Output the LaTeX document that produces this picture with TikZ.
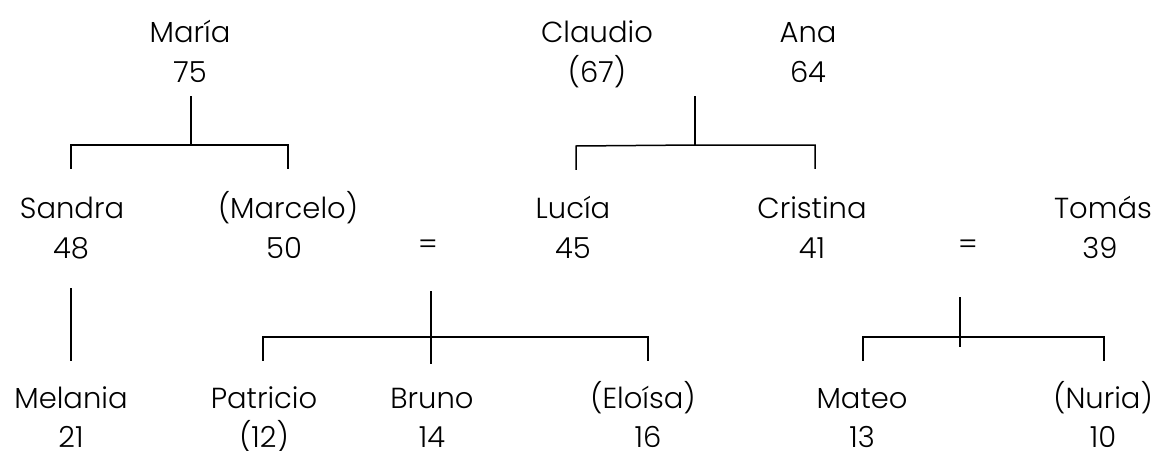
\documentclass[tikz,border=0pt]{standalone}
\usepackage{fontspec}
\setmainfont{Poppins}[UprightFont=* Light]
\begin{document}
\begin{tikzpicture}[x=1pt,y=-1pt,
  lbl/.style={anchor=base,inner sep=0pt,font=\fontsize{29}{35}\selectfont},
  conn/.style={line width=1.5pt,line cap=rect}]
\useasboundingbox (0,0) rectangle (1155,450);
% row 1
\node[lbl] (maria) at (190,42) {María};
\node[lbl] (mariaA) at (190,82) {75};
\node[lbl] (claudio) at (597,42) {Claudio};
\node[lbl] (claudioA) at (597,82) {(67)};
\node[lbl] (ana) at (808,42) {Ana};
\node[lbl] (anaA) at (808,82) {64};
% row 2
\node[lbl] (sandra) at (72,218) {Sandra};
\node[lbl] (sandraA) at (71,258) {48};
\node[lbl] (marcelo) at (288,218) {(Marcelo)};
\node[lbl] (marceloA) at (284,258) {50};
\node[lbl,anchor=center] (eq1) at (428,247) {=};
\node[lbl] (lucia) at (573,218) {Lucía};
\node[lbl] (luciaA) at (573,258) {45};
\node[lbl] (cristina) at (812,218) {Cristina};
\node[lbl] (cristinaA) at (812,258) {41};
\node[lbl,anchor=center] (eq2) at (968,247) {=};
\node[lbl] (tomas) at (1103,218) {Tomás};
\node[lbl] (tomasA) at (1100,258) {39};
% row 3
\node[lbl] (melania) at (71,408) {Melania};
\node[lbl] (melaniaA) at (71,447) {21};
\node[lbl] (patricio) at (264,408) {Patricio};
\node[lbl] (patricioA) at (264,447) {(12)};
\node[lbl] (bruno) at (432,408) {Bruno};
\node[lbl] (brunoA) at (432,447) {14};
\node[lbl] (eloisa) at (643,408) {(Eloísa)};
\node[lbl] (eloisaA) at (648,447) {16};
\node[lbl] (mateo) at (862,408) {Mateo};
\node[lbl] (mateoA) at (862,447) {13};
\node[lbl] (nuria) at (1103,408) {(Nuria)};
\node[lbl] (nuriaA) at (1103,447) {10};
% connector coordinates
\coordinate (m1) at (191,97);
\coordinate (m2) at (191,145);
\coordinate (s1) at (71,145);
\coordinate (s2) at (71,168);
\coordinate (mc1) at (288,145);
\coordinate (mc2) at (288,168);
\coordinate (c1) at (695,97);
\coordinate (c2) at (695,145);
\coordinate (l1) at (576,146);
\coordinate (l2) at (576,169);
\coordinate (cr1) at (815,145);
\coordinate (cr2) at (815,168);
\coordinate (sd1) at (71,289);
\coordinate (sd2) at (71,360);
\coordinate (b1) at (431,292);
\coordinate (b2) at (431,363);
\coordinate (bm) at (431,337);
\coordinate (p1) at (263,337);
\coordinate (p2) at (263,360);
\coordinate (e1) at (648,337);
\coordinate (e2) at (648,360);
\coordinate (t1) at (960,298);
\coordinate (t2) at (960,346);
\coordinate (tm) at (960,337);
\coordinate (ma1) at (863,337);
\coordinate (ma2) at (863,360);
\coordinate (n1) at (1104,337);
\coordinate (n2) at (1104,360);
% connectors
\draw[conn] (m1) -- (m2);
\draw[conn] (s2) -- (s1) -- (mc1) -- (mc2);
\draw[conn] (c1) -- (c2);
\draw[conn] (l2) -- (l1) -- (c2) -- (cr1) -- (cr2);
\draw[conn] (sd1) -- (sd2);
\draw[conn] (b1) -- (b2);
\draw[conn] (p2) -- (p1) -- (bm) -- (e1) -- (e2);
\draw[conn] (t1) -- (t2);
\draw[conn] (ma2) -- (ma1) -- (tm) -- (n1) -- (n2);
\end{tikzpicture}
\end{document}
